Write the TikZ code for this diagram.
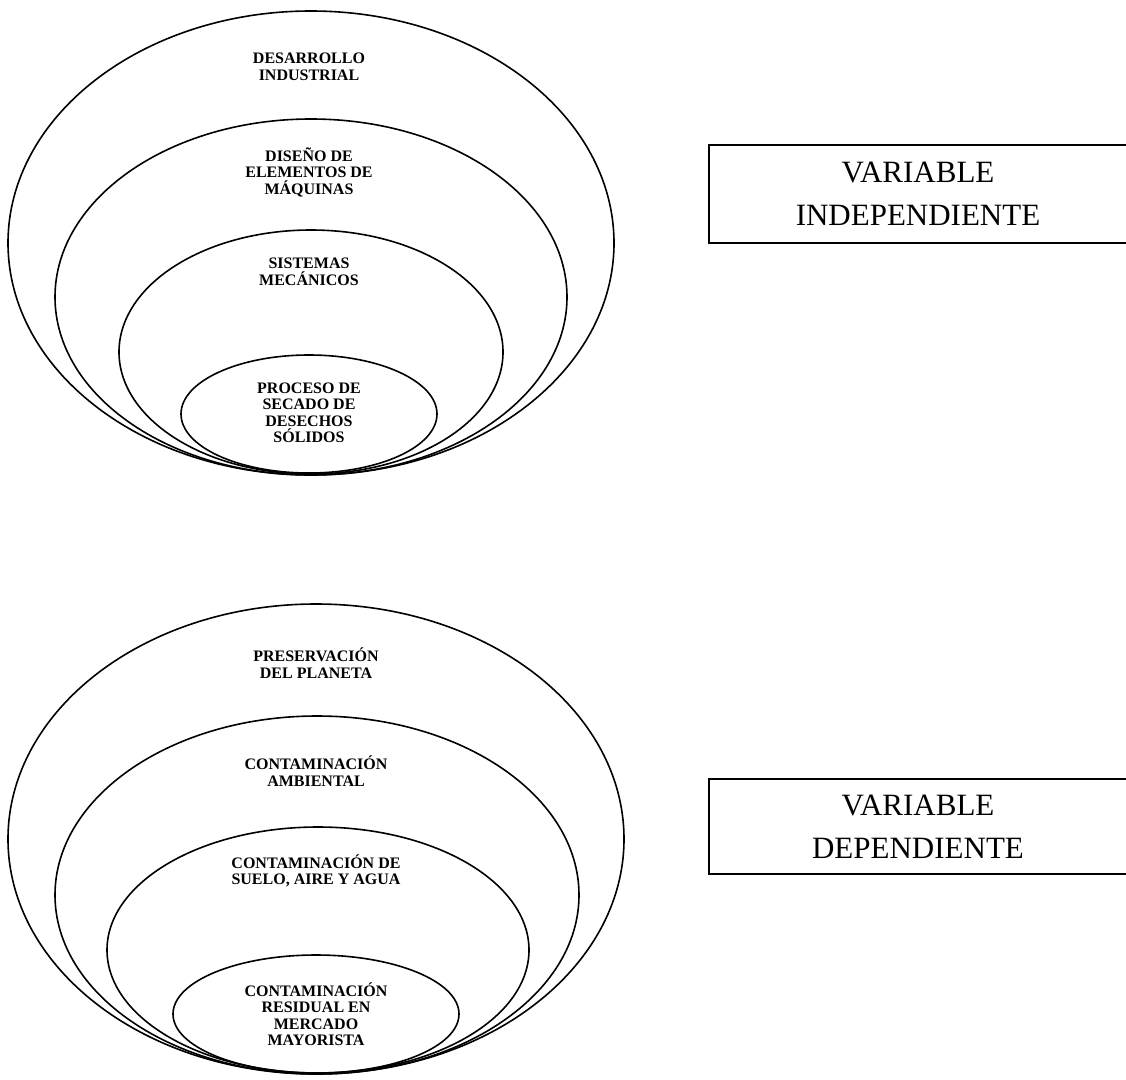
\documentclass[tikz,border=0pt]{standalone}
\usepackage{fontspec}
\setmainfont{Liberation Serif}
\usetikzlibrary{shapes.geometric}

\tikzset{
  ring/.style={draw, ellipse, line width=1.6pt, inner sep=0pt, outer sep=0pt},
  tag/.style={align=center, inner sep=0pt, font=\bfseries\fontsize{16}{16.5}\selectfont},
  varbox/.style={draw, align=center, minimum width=418pt, font=\fontsize{31}{43}\selectfont}
}

\begin{document}
\begin{tikzpicture}[x=1pt,y=-1pt]
\useasboundingbox (0,0) rectangle (1126,1079);

% variable independiente
\node [ring, minimum width=606pt, minimum height=464pt] (desarrollo) at (311,243) {};
\node [ring, minimum width=512pt, minimum height=356pt] (diseno) at (311,297) {};
\node [ring, minimum width=384pt, minimum height=244pt] (sistemas) at (311,352) {};
\node [ring, minimum width=256pt, minimum height=118pt] (secado) at (309,414) {};

\node [tag] (tdesarrollo) at (309,67) {DESARROLLO\\INDUSTRIAL};
\node [tag] (tdiseno) at (309,172) {DISEÑO DE\\ELEMENTOS DE\\MÁQUINAS};
\node [tag] (tsistemas) at (309,272) {SISTEMAS\\MECÁNICOS};
\node [tag] (tsecado) at (309,413) {PROCESO DE\\SECADO DE\\DESECHOS\\SÓLIDOS};

\node [varbox, line width=1.5pt, minimum height=98pt] (indep) at (918,194) {VARIABLE\\INDEPENDIENTE};

% variable dependiente
\node [ring, minimum width=616pt, minimum height=470pt] (planeta) at (316,839) {};
\node [ring, minimum width=524pt, minimum height=358pt] (ambiental) at (317,895) {};
\node [ring, minimum width=422pt, minimum height=246pt] (suelo) at (318,950) {};
\node [ring, minimum width=286pt, minimum height=118pt] (mercado) at (316,1014) {};

\node [tag] (tplaneta) at (316,663) {PRESERVACIÓN\\DEL PLANETA};
\node [tag] (tambiental) at (316,771) {CONTAMINACIÓN\\AMBIENTAL};
\node [tag] (tsuelo) at (316,871) {CONTAMINACIÓN DE\\SUELO, AIRE Y AGUA};
\node [tag] (tmercado) at (316,1014) {CONTAMINACIÓN\\RESIDUAL EN\\MERCADO\\MAYORISTA};

\node [varbox, line width=2.2pt, minimum height=95pt] (dep) at (918,826.5) {VARIABLE\\DEPENDIENTE};
\end{tikzpicture}
\end{document}
